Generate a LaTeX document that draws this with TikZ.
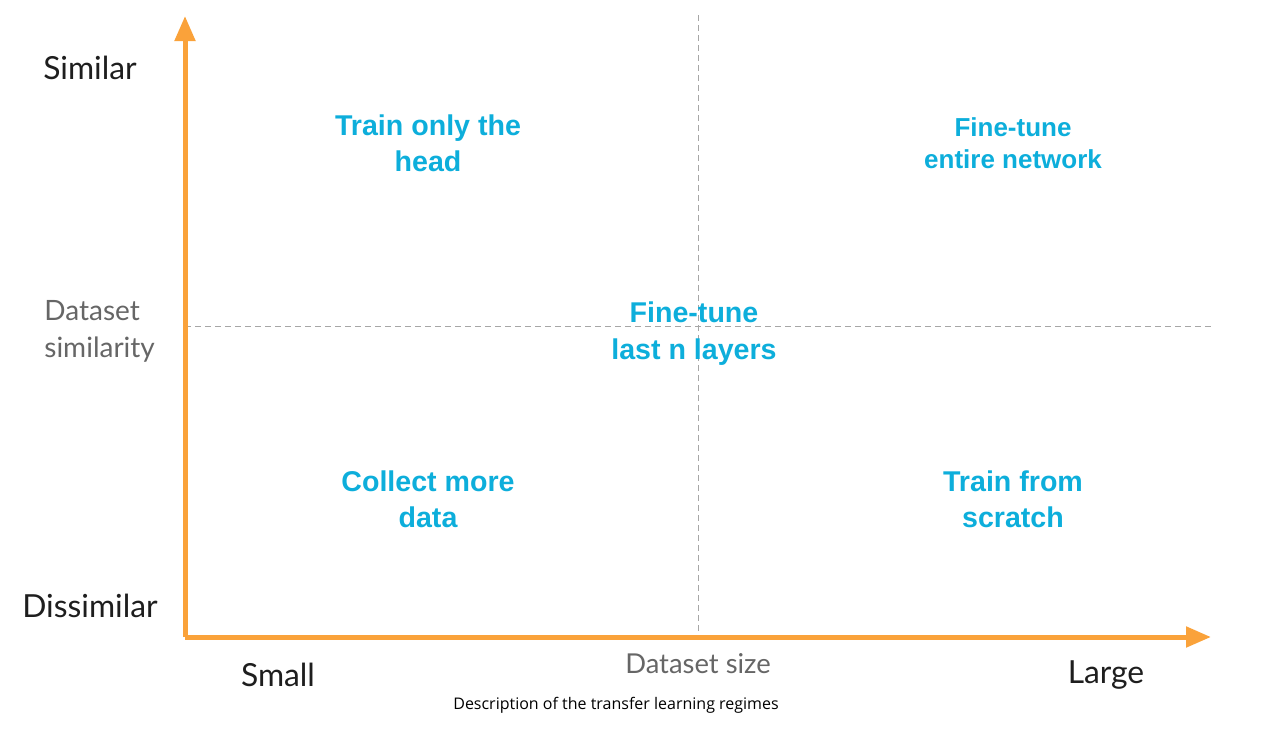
\documentclass[tikz,border=0pt]{standalone}
\usepackage{fontspec}
\setmainfont{Lato}
\newfontfamily\regimefont{Liberation Sans}[BoldFont={Liberation Sans Bold}]
\newfontfamily\captionfont{Open Sans}
\usepackage{tikz}
\usetikzlibrary{arrows.meta, positioning}
\definecolor{axisorange}{HTML}{FAA23A}
\definecolor{regimeblue}{HTML}{0DAEDB}
\definecolor{labelgray}{HTML}{666666}
\definecolor{labelblack}{HTML}{1E1E1E}

\tikzset{
    axis/.style={draw=axisorange, line width=2.5pt, -{Triangle[length=12.5pt, width=10pt]}},
    split/.style={draw=gray!70, line width=0.5pt, dash pattern=on 3pt off 2pt},
    regime/.style={text=regimeblue, align=center, inner sep=0pt,
        font=\regimefont\bfseries\fontsize{14.3}{17.8}\selectfont},
    level/.style={text=labelblack, inner sep=0pt, font=\fontsize{15.9}{19}\selectfont},
    axlabel/.style={text=labelgray, inner sep=0pt, align=left,
        font=\fontsize{14}{18.5}\selectfont}
}

\begin{document}
\begin{tikzpicture}[x=0.5pt, y=-0.5pt]
    \useasboundingbox (0,0) rectangle (1261,739);
    % axes and quadrant lines
    \coordinate (origin) at (185,637);
    \coordinate (ytip) at (185,16);
    \coordinate (xtip) at (1211,637);
    \coordinate (vtop) at (698,15);
    \coordinate (vbot) at (698,637);
    \coordinate (hleft) at (185,326);
    \coordinate (hright) at (1211,326);
    \draw[split] (vtop) -- (vbot);
    \draw[split] (hleft) -- (hright);
    \draw[axis] (origin) -- (ytip);
    \draw[axis] (origin) -- (xtip);
    % axis labels
    \node[level] (similar) at (90,68) {Similar};
    \node[level] (dissimilar) at (90,606) {Dissimilar};
    \node[level] (small) at (278,675) {Small};
    \node[level] (large) at (1106,675) {Large};
    \node[axlabel, anchor=west] (simlabel) at (44,331) {Dataset\\similarity};
    \node[axlabel, font=\fontsize{13.7}{16}\selectfont] (sizelabel) at (698,664) {Dataset size};
    % regimes
    \node[regime] (head) at (428,143) {Train only the\\head};
    \node[regime, font=\regimefont\bfseries\fontsize{13}{16}\selectfont] (entire) at (1013,143) {Fine-tune\\entire network};
    \node[regime, font=\regimefont\bfseries\fontsize{14.3}{18.5}\selectfont] (lastn) at (694,334) {Fine-tune\\last n layers};
    \node[regime] (collect) at (428,499) {Collect more\\data};
    \node[regime] (scratch) at (1013,499) {Train from\\scratch};
    % caption
    \node[font=\captionfont\fontsize{8}{9.5}\selectfont, inner sep=0pt] (caption) at (616,705) {Description of the transfer learning regimes};
\end{tikzpicture}
\end{document}
